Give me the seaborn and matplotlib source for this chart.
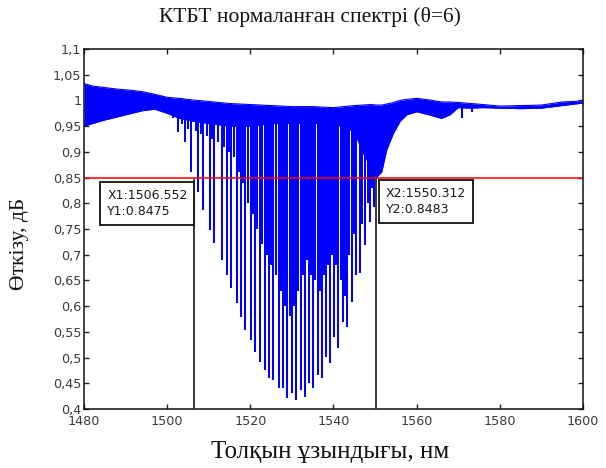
import numpy as np
import pandas as pd
import matplotlib
matplotlib.use("Agg")
import matplotlib.pyplot as plt
import seaborn as sns

# Ripple band of the normalised transmission spectrum (upper / lower envelope)
band_nm = [1480, 1482, 1485, 1488, 1491, 1494, 1497, 1500, 1503, 1506, 1510,
           1515, 1520, 1525, 1530, 1535, 1540, 1545, 1547, 1549, 1550.3, 1551.6,
           1552.8, 1554.4, 1556, 1557.6, 1560, 1563, 1566, 1568, 1570, 1573,
           1576, 1580, 1585, 1590, 1595, 1600]
band_hi = [1.033, 1.028, 1.025, 1.022, 1.020, 1.017, 1.012, 1.006, 1.004, 1.001, 0.998,
           0.994, 0.992, 0.990, 0.988, 0.988, 0.986, 0.990, 0.991, 0.992, 0.991, 0.991,
           0.993, 0.996, 1.000, 1.002, 1.004, 1.001, 0.997, 0.997, 0.996, 0.994,
           0.992, 0.989, 0.990, 0.991, 0.997, 0.999]
band_lo = [0.950, 0.955, 0.962, 0.968, 0.974, 0.980, 0.983, 0.975, 0.965, 0.960, 0.955,
           0.950, 0.950, 0.955, 0.955, 0.955, 0.955, 0.940, 0.900, 0.870, 0.850, 0.861,
           0.904, 0.936, 0.959, 0.972, 0.978, 0.972, 0.965, 0.972, 0.986, 0.985,
           0.986, 0.985, 0.984, 0.985, 0.990, 0.995]

# Strong cladding-mode resonances: wavelength (nm) and minimum transmission
deep_nm = [1502.7, 1504.3, 1505.7, 1507.5, 1508.7, 1510.3, 1511.3, 1513.1, 1514.3,
           1515.4, 1516.7, 1517.8, 1518.7, 1520.2, 1521.1, 1522.3, 1523.5, 1524.6,
           1525.5, 1526.9, 1527.9, 1528.9, 1530.0, 1530.9, 1532.1, 1533.2, 1534.2,
           1535.1, 1536.2, 1537.2, 1538.2, 1539.2, 1540.2, 1541.2, 1542.4, 1543.2,
           1544.4, 1545.5, 1546.3, 1547.6, 1548.7, 1549.7]
deep_T = [0.939, 0.920, 0.861, 0.822, 0.787, 0.748, 0.723, 0.690, 0.661,
          0.635, 0.606, 0.579, 0.554, 0.534, 0.511, 0.491, 0.476, 0.460,
          0.456, 0.441, 0.441, 0.421, 0.431, 0.417, 0.437, 0.423, 0.450,
          0.441, 0.466, 0.460, 0.501, 0.489, 0.540, 0.519, 0.569, 0.559,
          0.608, 0.660, 0.664, 0.719, 0.764, 0.793]

# Weaker resonances lying between the strong ones, and small ones on the red side
weak_nm = [1501.5, 1503.5, 1505.0, 1507.0, 1508.1, 1509.5, 1510.8, 1512.2, 1513.7,
           1514.8, 1516.0, 1517.2, 1518.2, 1519.4, 1520.6, 1521.7, 1522.9, 1524.0,
           1525.05, 1526.2, 1527.4, 1528.4, 1529.45, 1530.45, 1531.5, 1532.65, 1533.7,
           1534.65, 1535.65, 1536.7, 1537.7, 1538.7, 1539.7, 1540.7, 1541.8, 1542.8,
           1543.8, 1544.95, 1546.9, 1548.2, 1549.2, 1570.8, 1573.2, 1587.0]
weak_T = [0.965, 0.955, 0.945, 0.940, 0.935, 0.930, 0.925, 0.920, 0.910,
          0.900, 0.890, 0.860, 0.840, 0.800, 0.780, 0.750, 0.720, 0.700,
          0.680, 0.660, 0.630, 0.600, 0.580, 0.600, 0.630, 0.660, 0.690,
          0.660, 0.650, 0.630, 0.660, 0.680, 0.700, 0.680, 0.650, 0.620,
          0.700, 0.740, 0.760, 0.800, 0.830, 0.965, 0.978, 0.985]

# Data cursors and the reference level
cursor_nm = [1506.552, 1550.312]
cursor_T = [0.8475, 0.8483]
level_T = 0.85

x_ticks = [1480, 1500, 1520, 1540, 1560, 1580, 1600]
y_ticks = [0.4, 0.45, 0.5, 0.55, 0.6, 0.65, 0.7, 0.75, 0.8, 0.85, 0.9, 0.95, 1.0, 1.05, 1.1]
y_tick_labels = ["0,4", "0,45", "0,5", "0,55", "0,6", "0,65", "0,7", "0,75", "0,8",
                 "0,85", "0,9", "0,95", "1", "1,05", "1,1"]

title_text = "КТБТ нормаланған спектрі (θ=6)"
x_label = "Толқын ұзындығы, нм"
y_label = "Өткізу, дБ"

sns.set_theme(style="ticks")
plt.rcParams["font.family"] = ["DejaVu Sans"]

BLUE = "#0000ff"
W, H = 606, 468
fig = plt.figure(figsize=(W / 100, H / 100), dpi=100)
ax = fig.add_axes([84 / W, 1 - 409 / H, (583 - 84) / W, (409 - 49) / H])

# ripple band
edges = pd.DataFrame({
    "nm": band_nm + band_nm,
    "T": band_hi + band_lo,
    "edge": ["hi"] * len(band_nm) + ["lo"] * len(band_nm),
})
ax.fill_between(band_nm, band_lo, band_hi, color=BLUE, lw=0, zorder=2)
sns.lineplot(data=edges, x="nm", y="T", units="edge", estimator=None,
             color=BLUE, lw=0.8, ax=ax, zorder=2, legend=False)

# resonance dips, each running from its minimum up into the band
band_mid = (np.array(band_hi) + np.array(band_lo)) / 2
for nm, T in ((deep_nm, deep_T), (weak_nm, weak_T)):
    tops = np.interp(nm, band_nm, band_mid)
    ax.vlines(nm, T, tops, color=BLUE, lw=1.45, zorder=2)

# reference level and data cursors
ax.axhline(level_T, color="#ff0000", lw=1.1, zorder=4)
ax.vlines(cursor_nm, 0.4, cursor_T, color="#262626", lw=1.3, zorder=4)

tip_size = 9.0
tip_pad = 0.55
tip_font = dict(fontsize=tip_size, family=["DejaVu Sans"], color="#1a1a1a",
                linespacing=1.3, multialignment="left")
tip_box = dict(boxstyle=f"square,pad={tip_pad}", fc="white", ec="#111111", lw=1.3)
ax.annotate(f"X1:{cursor_nm[0]:.3f}\nY1:{cursor_T[0]:.4f}",
            xy=(cursor_nm[0], cursor_T[0]),
            xytext=(-tip_pad * tip_size, -2.2 - tip_pad * tip_size),
            textcoords="offset points", ha="right", va="top", zorder=5,
            bbox=tip_box, **tip_font)
ax.annotate(f"X2:{cursor_nm[1]:.3f}\nY2:{cursor_T[1]:.4f}",
            xy=(cursor_nm[1], cursor_T[1]),
            xytext=(1.9 + tip_pad * tip_size, -1.4 - tip_pad * tip_size),
            textcoords="offset points", ha="left", va="top", zorder=5,
            bbox=tip_box, **tip_font)

ax.set_xlim(1480, 1600)
ax.set_ylim(0.4, 1.1)
ax.set_xticks(x_ticks)
ax.set_xticklabels([str(t) for t in x_ticks])
ax.set_yticks(y_ticks)
ax.set_yticklabels(y_tick_labels)
ax.tick_params(direction="in", length=3.6, width=1.0, color="#222222",
               labelsize=9.2, labelcolor="#3a3a3a", top=True, right=True,
               bottom=True, left=True)
ax.tick_params(axis="y", pad=2)
ax.tick_params(axis="x", pad=4.5)
for s in ax.spines.values():
    s.set_visible(True)
    s.set_color("#111111")
    s.set_linewidth(1.1)
ax.set_xlabel("")
ax.set_ylabel("")

serif = ["Liberation Serif", "DejaVu Serif"]
fig.text(310 / W, 1 - 17 / H, title_text, ha="center", va="center",
         fontsize=15.5, family=serif, color="#111111")
fig.text(330 / W, 1 - 452 / H, x_label, ha="center", va="center",
         fontsize=18, family=serif, color="#111111")
fig.text(20 / W, 1 - 244 / H, y_label, ha="center", va="center", rotation=90,
         fontsize=15.5, family=serif, color="#111111")

fig.savefig("out.png", dpi=100)
